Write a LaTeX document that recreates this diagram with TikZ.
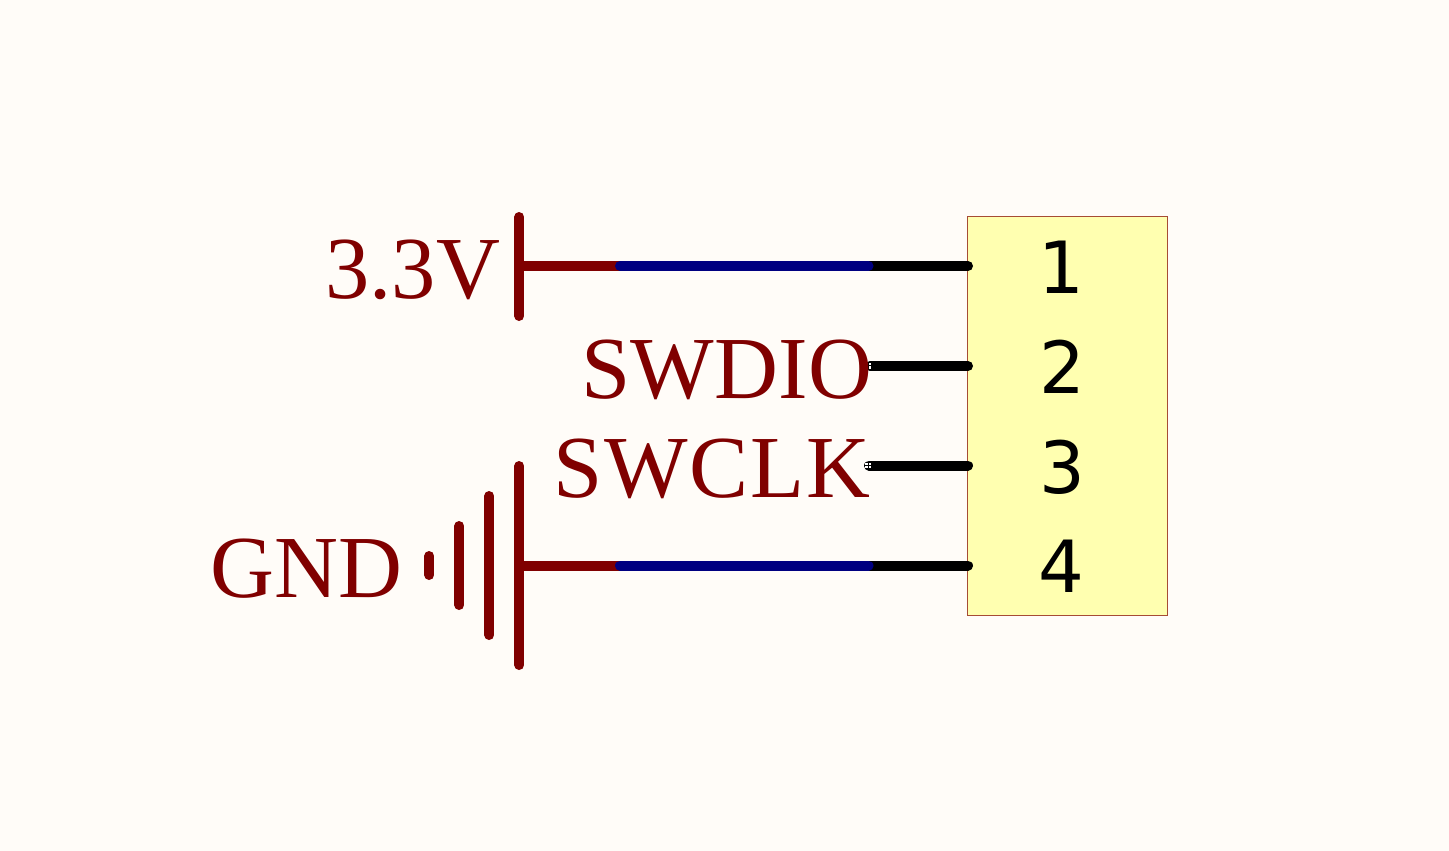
\documentclass[tikz,border=0pt]{standalone}
\usepackage{fontspec}
\setmainfont[Kerning=Off]{Liberation Serif}
\newfontfamily\pinfont{DejaVu Sans}
\definecolor{bgc}{HTML}{FFFCF8}
\definecolor{darkred}{HTML}{800000}
\definecolor{wireblue}{HTML}{000080}
\definecolor{boxfill}{HTML}{FFFFB0}
\tikzset{
  netlabel/.style={inner sep=0pt,outer sep=0pt,text=darkred,anchor=base east,font=\fontsize{88.5}{90}\selectfont},
  pinlabel/.style={inner sep=0pt,outer sep=0pt,text=black,anchor=base,font=\pinfont\fontsize{72}{74}\selectfont},
  redline/.style={draw=darkred,line width=10pt,line cap=round},
  blueline/.style={draw=wireblue,line width=10pt,line cap=round},
  pinline/.style={draw=black,line width=10pt,line cap=round},
  connbox/.style={draw=darkred!70!boxfill,line width=1pt,fill=boxfill,inner sep=0pt,outer sep=0pt,minimum width=199.5pt,minimum height=399pt,anchor=north west},
  speck/.style={fill=white,draw=none,inner sep=0pt,minimum size=2.5pt,outer sep=0pt}
}
\begin{document}
\begin{tikzpicture}[x=1pt,y=-1pt]
\useasboundingbox[fill=bgc] (0,0) rectangle (1449,851);
\node[connbox] (box) at (967.7,216.5) {};
% coordinates
\coordinate (p1) at (968,266);
\coordinate (p2) at (968,366);
\coordinate (p3) at (968,465.5);
\coordinate (p4) at (968,565.5);
\coordinate (j1) at (868.5,266);
\coordinate (j2) at (870,366);
\coordinate (j3) at (869,465.5);
\coordinate (j4) at (868.5,565.5);
\coordinate (b1) at (620,266);
\coordinate (b4) at (620,565.5);
\coordinate (v) at (519.3,266);
\coordinate (g) at (519.3,565.5);
% power port
\draw[redline] (519.3,217) -- (519.3,316);
\draw[redline] (v) -- (b1);
% ground port
\draw[redline] (519.3,466) -- (519.3,665);
\draw[redline] (489.3,496) -- (489.3,635);
\draw[redline] (459.3,526) -- (459.3,605);
\draw[redline] (429.3,556) -- (429.3,575);
\draw[redline] (g) -- (b4);
% pins
\draw[pinline] (j1) -- (p1);
\draw[pinline] (j2) -- (p2);
\draw[pinline] (j3) -- (p3);
\draw[pinline] (j4) -- (p4);
% wires
\draw[blueline] (b1) -- (j1);
\draw[blueline] (b4) -- (j4);
% specks at the net label ends
\foreach \x in {867,870.2} {
  \foreach \y in {364.2,367.6} { \node[speck] at (\x,\y) {}; }
  \foreach \y in {463.8,467.2} { \node[speck] at (\x-0.3,\y) {}; }
}
% labels
\node[netlabel] (l33) at (500.5,298.5) {\addfontfeature{LetterSpace=0.3}3.3V};
\node[netlabel] (lio) at (872.5,398) {\addfontfeature{LetterSpace=0.3}SWDIO};
\node[netlabel] (lck) at (870.5,497.5) {\addfontfeature{LetterSpace=2.0}SWCLK};
\node[netlabel] (lgn) at (402,597.5) {GND};
\node[pinlabel] (n1) at (1061.5,293.5) {1};
\node[pinlabel] (n2) at (1062,393.5) {2};
\node[pinlabel] (n3) at (1062,493.5) {3};
\node[pinlabel] (n4) at (1061.5,592.5) {4};
\end{tikzpicture}
\end{document}
